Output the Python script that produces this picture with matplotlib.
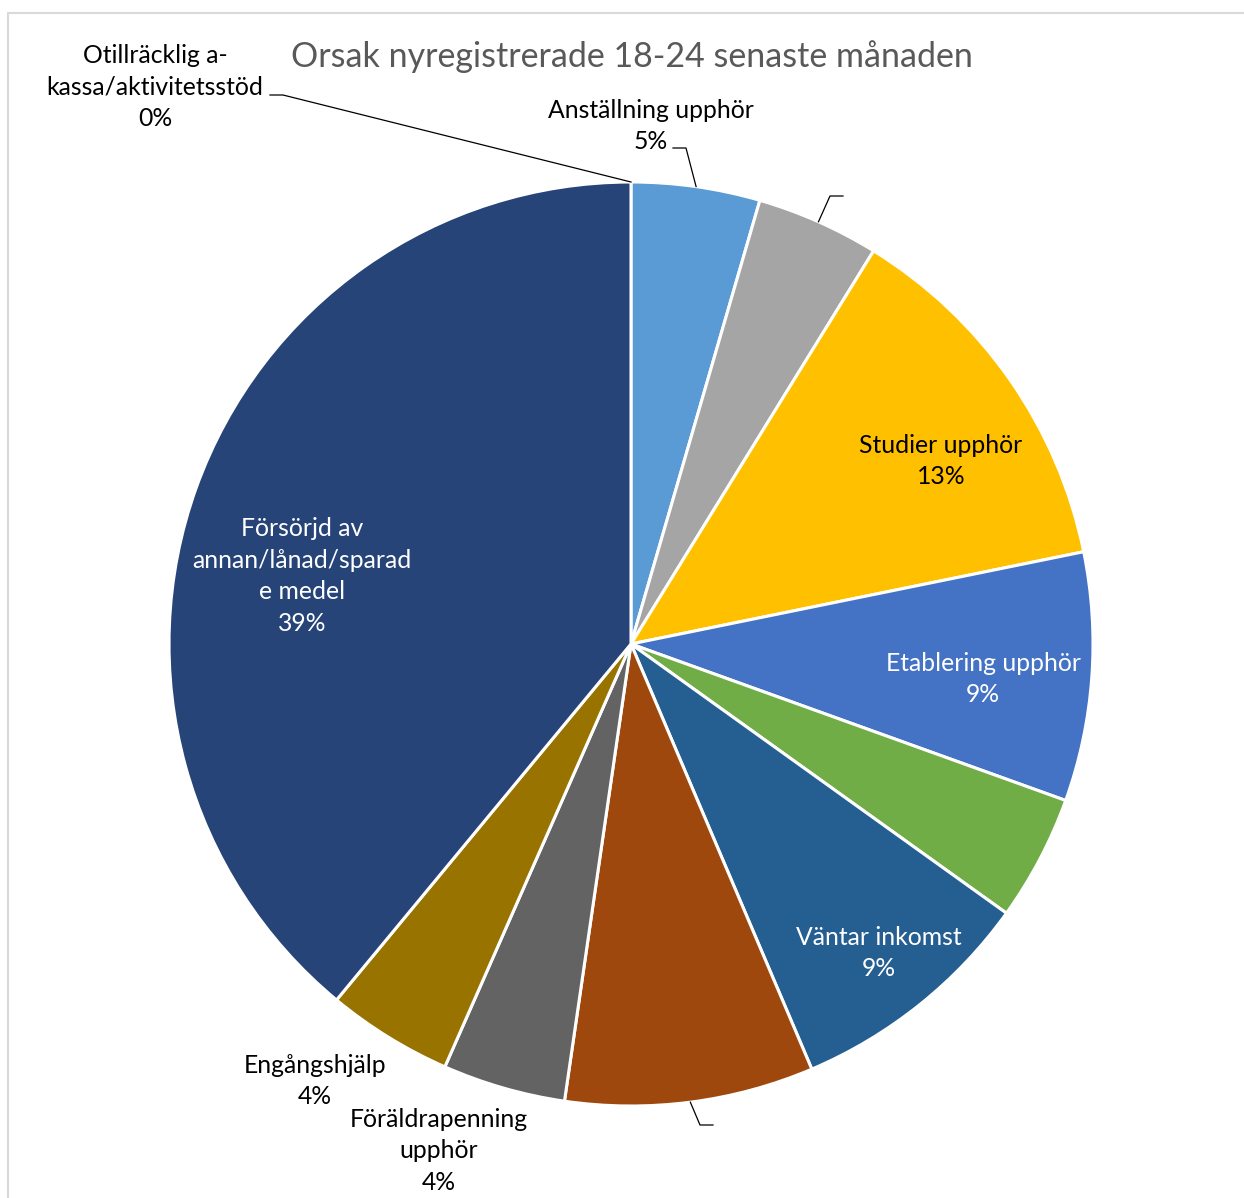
import numpy as np
import matplotlib.pyplot as plt
from matplotlib.patches import Rectangle

plt.rcParams['font.family'] = ['Lato', 'DejaVu Sans']

# data, clockwise from 12 o'clock
categories = ['Otillräcklig a-\nkassa/aktivitetsstöd', 'Anställning upphör', '',
              'Studier upphör', 'Etablering upphör', '', 'Väntar inkomst', '',
              'Föräldrapenning\nupphör', 'Engångshjälp',
              'Försörjd av\nannan/lånad/sparad\ne medel']
values = [0.0, 4.5, 4.3, 13.0, 8.7, 4.4, 8.7, 8.7, 4.3, 4.4, 39.0]
colors = ['#ED7D31', '#5B9BD5', '#A5A5A5', '#FFC000', '#4472C4', '#70AD47',
          '#255E91', '#9E480E', '#636363', '#997300', '#264478']
title = 'Orsak nyregistrerade 18-24 senaste månaden'

W, H = 1244, 1198
fig = plt.figure(figsize=(W / 100, H / 100), dpi=100)
ax = fig.add_axes([0, 0, 1, 1])

# chart frame
ax.add_patch(Rectangle((8, -20), W + 40, H - 13 + 20, fill=False,
                       edgecolor='#D9D9D9', lw=1.5))

cx, cy, R = 631, H - 644, 462
wedges, _ = ax.pie(values, colors=colors, startangle=90, counterclock=False,
                   radius=R, center=(cx, cy), frame=True,
                   wedgeprops=dict(edgecolor='white', linewidth=2.2))
ax.set_xlim(0, W)
ax.set_ylim(0, H)
ax.set_aspect('equal')
ax.axis('off')

fig.text(632 / W, 1 - 57 / H, title, ha='center', va='center',
         fontsize=24.5, color='#595959')

# label placement (pixel centers) and text colour
label_pos = {0: (155, 87), 1: (651, 126), 3: (941, 461), 4: (983, 679),
             6: (879, 953), 8: (439, 1151), 9: (315, 1081), 10: (302, 576)}
white_labels = {4, 6, 10}
for i, (cat, v) in enumerate(zip(categories, values)):
    if i not in label_pos:
        continue
    x, y = label_pos[i]
    ax.text(x, H - y, f'{cat}\n{int(v + 0.5)}%', ha='center', va='center',
            fontsize=17.8, linespacing=1.45,
            color='white' if i in white_labels else 'black')

# leader lines: from wedge edge to label
def edge_point(i, frac=0.5):
    w = wedges[i]
    ang = np.deg2rad(w.theta1 + (w.theta2 - w.theta1) * frac)
    return cx + R * np.cos(ang), cy + R * np.sin(ang)

leaders = {0: [(270, 95), (283, 95)], 1: [(673, 148), (686, 148)],
           2: [(843, 196), (830, 196)], 7: [(713, 1125), (700, 1125)]}
for i, pts in leaders.items():
    ex, ey = edge_point(i)
    xs = [p[0] for p in pts] + [ex]
    ys = [H - p[1] for p in pts] + [ey]
    ax.plot(xs, ys, color='black', lw=0.9)

fig.savefig('out.png', dpi=100)
